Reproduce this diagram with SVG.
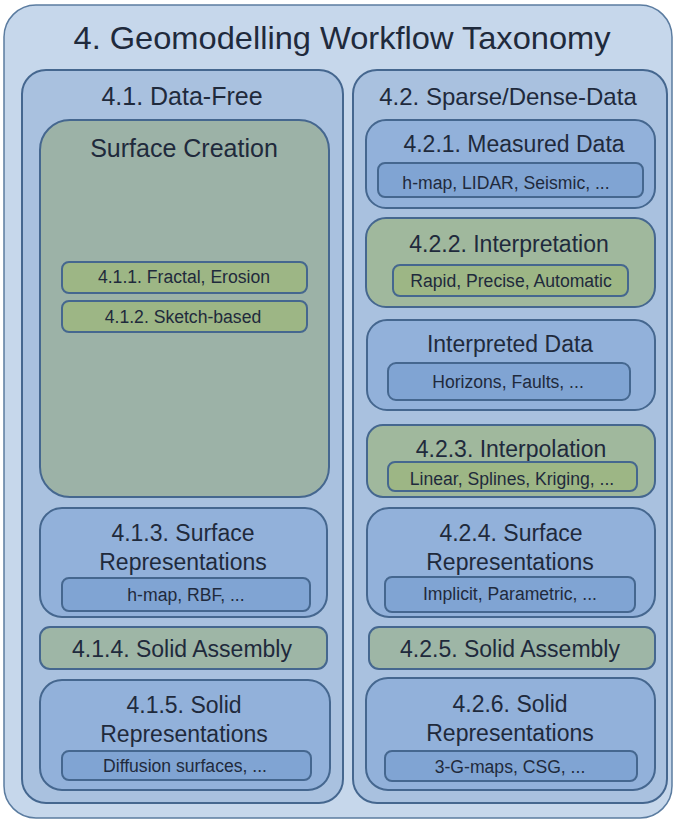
<svg xmlns="http://www.w3.org/2000/svg" width="675" height="821" viewBox="0 0 675 821" font-family="'Liberation Sans', Arimo, Arial, Helvetica, sans-serif">
<style>
text{fill:#1f2a3c;text-anchor:middle}
.h{font-size:23px}
.s{font-size:17.6px}
rect{stroke:#45678f;stroke-width:2}
.outer{fill:#c6d7eb;stroke:#5b7ca0;stroke-width:1.5}
.col{fill:#a9c1df}
.blue{fill:#92b1da}
.blueIn{fill:#80a4d3}
.greenBig{fill:#9cb2a7}
.green{fill:#a0b89d}
.greenIn{fill:#9db685}
.asm{fill:#9eb6a6}
</style>
<g id="taxonomy">
<rect class="outer" x="4" y="5" width="668" height="813" rx="32"/>
<text x="342" y="49" font-size="30.5" textLength="537" lengthAdjust="spacingAndGlyphs">4. Geomodelling Workflow Taxonomy</text>
</g>
<g id="data-free">
<rect class="col" x="22" y="70" width="321" height="733" rx="24"/>
<text x="182" y="105" font-size="25">4.1. Data-Free</text>
</g>
<g id="sparse-dense">
<rect class="col" x="353" y="70" width="314" height="733" rx="24"/>
<text x="508" y="105" font-size="24">4.2. Sparse/Dense-Data</text>
</g>
<g id="surface-creation">
<rect class="greenBig" x="40" y="120" width="289" height="377" rx="30"/>
<text x="184" y="157" font-size="25">Surface Creation</text>
</g>
<g id="n411">
<rect class="greenIn" x="62" y="262" width="245" height="31" rx="7"/>
<text class="s" x="184" y="283" font-size="17.4">4.1.1. Fractal, Erosion</text>
</g>
<g id="n412">
<rect class="greenIn" x="62" y="301" width="245" height="31" rx="7"/>
<text class="s" x="183" y="323" font-size="17.4">4.1.2. Sketch-based</text>
</g>
<g id="n413">
<rect class="blue" x="40" y="508" width="287" height="109" rx="22"/>
<text class="h" x="183" y="541">4.1.3. Surface</text>
<text class="h" x="183" y="570">Representations</text>
<rect class="blueIn" x="62" y="578" width="248" height="33" rx="7"/>
<text class="s" x="186" y="601" font-size="18.2">h-map, RBF, ...</text>
</g>
<g id="n414">
<rect class="asm" x="40" y="627" width="287" height="42" rx="10"/>
<text class="h" x="182" y="657">4.1.4. Solid Assembly</text>
</g>
<g id="n415">
<rect class="blue" x="40" y="680" width="290" height="110" rx="22"/>
<text class="h" x="184" y="713">4.1.5. Solid</text>
<text class="h" x="184" y="742">Representations</text>
<rect class="blueIn" x="62" y="751" width="249" height="29" rx="7"/>
<text class="s" x="185" y="772">Diffusion surfaces, ...</text>
</g>
<g id="n421">
<rect class="blue" x="366" y="120" width="289" height="88" rx="20"/>
<text class="h" x="514" y="152">4.2.1. Measured Data</text>
<rect class="blueIn" x="378" y="163" width="265" height="34" rx="7"/>
<text class="s" x="506" y="189" font-size="19">h-map, LIDAR, Seismic, ...</text>
</g>
<g id="n422">
<rect class="green" x="366" y="218" width="289" height="89" rx="20"/>
<text class="h" x="509" y="252">4.2.2. Interpretation</text>
<rect class="greenIn" x="393" y="265" width="235" height="31" rx="7"/>
<text class="s" x="511" y="287">Rapid, Precise, Automatic</text>
</g>
<g id="interpreted-data">
<rect class="blue" x="367" y="320" width="288" height="90" rx="20"/>
<text class="h" x="510" y="352">Interpreted Data</text>
<rect class="blueIn" x="388" y="363" width="242" height="37" rx="8"/>
<text class="s" x="508" y="388">Horizons, Faults, ...</text>
</g>
<g id="n423">
<rect class="green" x="367" y="425" width="288" height="72" rx="16"/>
<text class="h" x="511" y="457">4.2.3. Interpolation</text>
<rect class="greenIn" x="388" y="462" width="249" height="29" rx="7"/>
<text class="s" x="512" y="485">Linear, Splines, Kriging, ...</text>
</g>
<g id="n424">
<rect class="blue" x="367" y="508" width="288" height="109" rx="22"/>
<text class="h" x="511" y="541">4.2.4. Surface</text>
<text class="h" x="510" y="570">Representations</text>
<rect class="blueIn" x="385" y="577" width="250" height="35" rx="7"/>
<text class="s" x="510" y="600">Implicit, Parametric, ...</text>
</g>
<g id="n425">
<rect class="asm" x="369" y="627" width="286" height="42" rx="10"/>
<text class="h" x="510" y="657">4.2.5. Solid Assembly</text>
</g>
<g id="n426">
<rect class="blue" x="366" y="678" width="289" height="112" rx="22"/>
<text class="h" x="510" y="712">4.2.6. Solid</text>
<text class="h" x="510" y="741">Representations</text>
<rect class="blueIn" x="385" y="751" width="252" height="30" rx="7"/>
<text class="s" x="510" y="773">3-G-maps, CSG, ...</text>
</g>
</svg>
